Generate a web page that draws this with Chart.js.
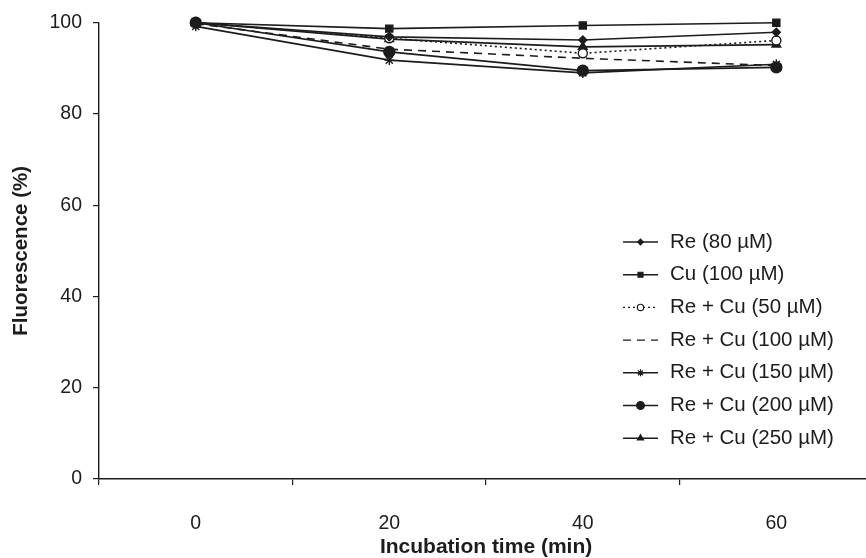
<!DOCTYPE html>
<html>
<head>
<meta charset="utf-8">
<script src="https://cdn.jsdelivr.net/npm/chart.js@4/dist/chart.umd.min.js"></script>
<style>
  html, body { margin: 0; padding: 0; background: #fff; overflow: hidden; }
  #wrap { width: 880px; height: 558px; }
</style>
</head>
<body>
<div id="wrap"><canvas id="chart" width="880" height="558"></canvas></div>
<script>
// incubation times (min)
const times = ['0', '20', '40', '60'];

// fluorescence (%) per treatment
const re80 = [100, 96.9, 96.2, 97.9];
const cu100 = [100, 98.7, 99.4, 100];
const reCu50 = [100, 96.6, 93.3, 96.1];
const reCu100 = [99.8, 94.2, 92.2, 90.6];
const reCu150 = [99.2, 91.8, 89.0, 90.9];
const reCu200 = [100, 93.6, 89.5, 90.2];
const reCu250 = [100, 96.4, 94.7, 95.2];

const yTicks = [0, 20, 40, 60, 80, 100];

const ink = '#1c1c1c';
const fontFamily = '"Liberation Sans", Arial, Helvetica, sans-serif';

function series(label, data, style, radius, filled, dash) {
  return {
    label: label,
    data: data,
    borderColor: ink,
    borderWidth: 1.6,
    borderDash: dash || [],
    pointStyle: style,
    pointRadius: radius,
    pointHoverRadius: radius,
    pointBorderWidth: 1.4,
    pointBorderColor: ink,
    pointBackgroundColor: filled ? ink : '#fff',
    fill: false,
    tension: 0
  };
}

const datasets = [
  series('Re (80 \u00b5M)', re80, 'rectRot', 4, true),
  series('Cu (100 \u00b5M)', cu100, 'rect', 5, true),
  series('Re + Cu (50 \u00b5M)', reCu50, 'circle', 4.5, false, [2, 3]),
  series('Re + Cu (100 \u00b5M)', reCu100, 'circle', 0, true, [8, 6]),
  series('Re + Cu (150 \u00b5M)', reCu150, 'star', 5, true),
  series('Re + Cu (200 \u00b5M)', reCu200, 'circle', 5.5, true),
  series('Re + Cu (250 \u00b5M)', reCu250, 'triangle', 5, true)
];

// legend drawn as line + marker, like the original figure
const lineLegend = {
  id: 'lineLegend',
  afterDraw(chart) {
    const ctx = chart.ctx;
    ctx.save();
    chart.data.datasets.forEach((ds, i) => {
      const y = 242 + i * 32.7;
      ctx.strokeStyle = ink;
      ctx.lineWidth = 1.4;
      ctx.setLineDash(ds.borderDash);
      ctx.beginPath();
      ctx.moveTo(623, y);
      ctx.lineTo(658, y);
      ctx.stroke();
      ctx.setLineDash([]);
      if (ds.pointRadius > 0) {
        ctx.fillStyle = ds.pointBackgroundColor;
        ctx.strokeStyle = ink;
        ctx.lineWidth = 1.2;
        Chart.helpers.drawPoint(ctx, {
          pointStyle: ds.pointStyle,
          radius: ds.pointRadius * 0.7,
          borderWidth: 1.2,
          rotation: 0
        }, 640.5, y);
      }
      ctx.fillStyle = ink;
      ctx.font = '20.5px ' + fontFamily;
      ctx.textBaseline = 'middle';
      ctx.textAlign = 'left';
      ctx.fillText(ds.label, 670, y);
    });
    ctx.restore();
  }
};

new Chart(document.getElementById('chart'), {
  type: 'line',
  data: { labels: times, datasets: datasets },
  plugins: [lineLegend],
  options: {
    responsive: false,
    animation: false,
    clip: false,
    layout: { padding: { top: 19, right: 2, left: 0, bottom: 0 } },
    plugins: { legend: { display: false }, tooltip: { enabled: false } },
    scales: {
      x: {
        type: 'category',
        offset: true,
        grid: { offset: true, drawOnChartArea: false, drawTicks: true, tickLength: 6, color: ink, lineWidth: 1.2 },
        border: { display: true, color: ink, width: 1.4 },
        ticks: { color: ink, font: { family: fontFamily, size: 19.5 }, padding: 27, maxRotation: 0 },
        title: {
          display: true,
          text: 'Incubation time (min)',
          color: ink,
          font: { family: fontFamily, size: 21, weight: 'bold', lineHeight: 1 },
          padding: { top: 0, bottom: 0 }
        },
        afterFit(scale) { scale.height = 79; }
      },
      y: {
        min: 0,
        max: 100,
        afterBuildTicks(scale) { scale.ticks = yTicks.map(v => ({ value: v })); },
        grid: { drawOnChartArea: false, drawTicks: true, tickLength: 6, color: ink, lineWidth: 1.2 },
        border: { display: true, color: ink, width: 1.4 },
        ticks: { color: ink, font: { family: fontFamily, size: 19.5 }, padding: 11 },
        title: {
          display: true,
          text: 'Fluorescence (%)',
          color: ink,
          font: { family: fontFamily, size: 20.5, weight: 'bold' },
          padding: { top: 9.5, bottom: 0 }
        },
        afterFit(scale) { scale.width = 99; }
      }
    }
  }
});
</script>
</body>
</html>
